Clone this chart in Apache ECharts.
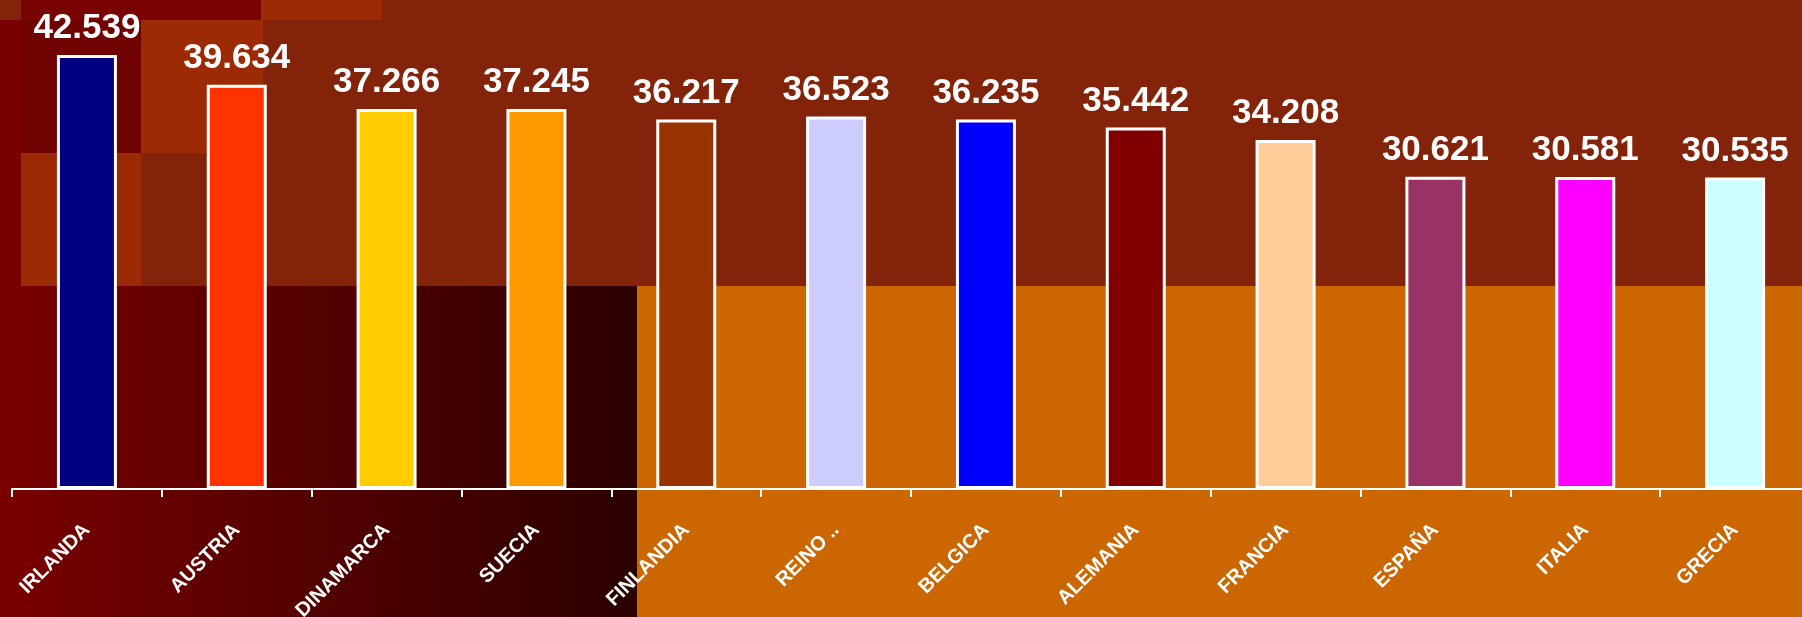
<!DOCTYPE html>
<html>
<head>
<meta charset="utf-8">
<script src="https://cdn.jsdelivr.net/npm/echarts@6/dist/echarts.min.js"></script>
<style>
  html, body { margin: 0; padding: 0; }
  #chart { width: 1802px; height: 617px; }
</style>
</head>
<body>
<div id="chart"></div>
<script>
// datos
var paises = ['IRLANDA', 'AUSTRIA', 'DINAMARCA', 'SUECIA', 'FINLANDIA', 'REINO ..',
  'BELGICA', 'ALEMANIA', 'FRANCIA', 'ESPAÑA', 'ITALIA', 'GRECIA'];
var valores = [42.539, 39.634, 37.266, 37.245, 36.217, 36.523,
  36.235, 35.442, 34.208, 30.621, 30.581, 30.535];
var colores = ['#000080', '#FF3300', '#FFCC00', '#FF9900', '#993300', '#CCCCFF',
  '#0000FF', '#800000', '#FFCC99', '#993366', '#FF00FF', '#CCFFFF'];

var chart = echarts.init(document.getElementById('chart'));

/*
* fondo de bloques (decoracion)
* */
function bloque(x, y, w, h, fill) {
  return {
    type: 'rect',
    z: -10,
    silent: true,
    shape: {x: x, y: y, width: w, height: h},
    style: {fill: fill}
  };
}

function getFondo() {
  return [
    bloque(21, 0, 240, 20, '#7a0404'),
    bloque(261, 0, 121, 20, '#9c2a05'),
    bloque(0, 20, 21, 266, '#780000'),
    bloque(21, 20, 120, 133, '#700202'),
    bloque(141, 20, 122, 133, '#9c2a05'),
    bloque(21, 153, 120, 133, '#9c2a05'),
    bloque(0, 286, 637, 331, {
      type: 'linear', x: 0, y: 0, x2: 1, y2: 0,
      colorStops: [{offset: 0, color: '#7a0000'}, {offset: 1, color: '#2c0000'}]
    }),
    bloque(637, 286, 1165, 331, '#cc6600')
  ];
}

chart.setOption({
  animation: false,
  backgroundColor: '#83240a',
  graphic: getFondo(),
  grid: {
    left: 12,
    top: 30,
    width: 1798,
    bottom: 128,
    containLabel: false,
    outerBoundsMode: 'none'
  },
  xAxis: {
    type: 'category',
    data: paises,
    axisLine: {show: true, lineStyle: {color: '#ffffff', width: 2}},
    axisTick: {show: true, alignWithLabel: false, length: 8, lineStyle: {color: '#ffffff', width: 2}},
    axisLabel: {
      interval: 0,
      rotate: 45,
      margin: 38,
      color: '#ffffff',
      fontSize: 20,
      fontWeight: 'bold',
      fontFamily: 'Liberation Sans, Arial, sans-serif'
    },
    splitLine: {show: false}
  },
  yAxis: {
    type: 'value',
    min: 0,
    max: 45,
    show: false
  },
  series: [{
    type: 'bar',
    barWidth: 60,
    data: valores.map(function (v, i) {
      return {value: v, itemStyle: {color: colores[i]}};
    }),
    itemStyle: {
      borderColor: '#ffffff',
      borderWidth: 3
    },
    label: {
      show: true,
      position: 'top',
      distance: 9,
      color: '#ffffff',
      fontSize: 35,
      fontWeight: 'bold',
      fontFamily: 'Liberation Sans, Arial, sans-serif',
      formatter: function (p) {
        return p.value.toFixed(3);
      }
    }
  }]
});
</script>
</body>
</html>
